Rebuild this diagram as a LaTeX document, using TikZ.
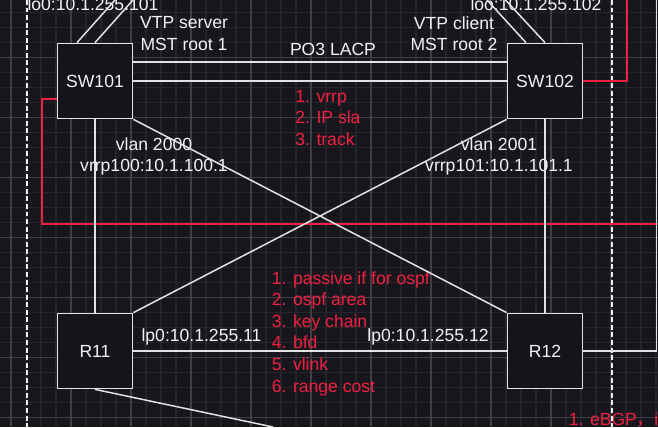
\documentclass[tikz,border=0pt]{standalone}
\usepackage{fontspec}
\setmainfont{Liberation Sans}
\newfontfamily\cjkfont{Noto Sans CJK SC}
\usetikzlibrary{positioning}

\definecolor{bgdark}{RGB}{24,22,29}
\definecolor{gridminor}{RGB}{38,36,43}
\definecolor{gridmajor}{RGB}{64,62,69}
\definecolor{boxfill}{RGB}{22,20,27}
\definecolor{linegrey}{RGB}{226,226,226}
\definecolor{textwhite}{RGB}{242,242,242}
\definecolor{notered}{RGB}{240,32,64}

\begin{document}
\begin{tikzpicture}[
    device/.style={rectangle,draw=linegrey,fill=boxfill,line width=1pt,minimum size=1.5cm,inner sep=0,text=textwhite},
    link/.style={draw=linegrey,line width=0.85pt},
    redlink/.style={draw=notered,line width=1pt},
    txt/.style={text=textwhite,align=center,inner sep=0},
    note/.style={text=notered,align=left,anchor=west,inner sep=0,font=\fontsize{10}{12.3}\selectfont},
    frame/.style={draw=textwhite,line width=1pt,dash pattern=on 2.8pt off 1.5pt},
]
    \fill[bgdark] (0,0) rectangle (13.16,8.54) ;
    \useasboundingbox (0,0) rectangle (13.16,8.54) ;

    % grid
    \foreach \i in {0,...,43} \draw[gridminor, line width=0.6pt] (0.22+0.3*\i,0) -- ++(0,8.54) ;
    \foreach \i in {0,...,27} \draw[gridminor, line width=0.6pt] (0,0.194+0.3*\i) -- ++(13.16,0) ;
    \foreach \i in {0,...,10} \draw[gridmajor, line width=0.6pt] (0.22+1.2*\i,0) -- ++(0,8.54) ;
    \foreach \i in {0,...,6} \draw[gridmajor, line width=0.6pt] (0,0.194+1.2*\i) -- ++(13.16,0) ;

    % devices
    \node[device] (sw101) at (1.9,6.92) {SW101} ;
    \node[device, xshift=9cm] (sw102) at (sw101) {SW102} ;
    \node[device, yshift=-5.4cm] (r11) at (sw101) {R11} ;
    \node[device, xshift=9cm] (r12) at (r11) {R12} ;

    % texts
    \node[txt, xshift=-0.04cm, yshift=1.54cm] (lo_sw101) at (sw101) {lo0:10.1.255.101} ;
    \node[txt, xshift=-0.18cm, yshift=1.54cm] (lo_sw102) at (sw102) {loo:10.1.255.102} ;
    \node[txt, xshift=1.78cm, yshift=0.95cm] (vtp_server) at (sw101) {VTP server\\MST root 1} ;
    \node[txt, xshift=-1.82cm, yshift=0.95cm] (vtp_client) at (sw102) {VTP client\\MST root 2} ;
    \node[txt, xshift=4.76cm, yshift=0.64cm] (po3) at (sw101) {PO3 LACP} ;
    \node[txt, xshift=1.18cm, yshift=-1.51cm] (vlan_2000) at (sw101) {vlan 2000\\vrrp100:10.1.100.1} ;
    \node[txt, xshift=-0.92cm, yshift=-1.51cm] (vlan_2001) at (sw102) {vlan 2001\\vrrp101:10.1.101.1} ;
    \node[txt, xshift=2.13cm, yshift=0.29cm] (lp_r11) at (r11) {lp0:10.1.255.11} ;
    \node[txt, xshift=-2.34cm, yshift=0.29cm] (lp_r12) at (r12) {lp0:10.1.255.12} ;

    \node[note, xshift=4.0cm, yshift=-0.74cm] (fhrp_notes) at (sw101) {1. vrrp\\2. IP sla\\3. track} ;
    \node[note, xshift=3.53cm, yshift=0.35cm] (ospf_notes) at (r11) {1. passive if for ospf\\2. ospf area\\3. key chain\\4. bfd\\5. vlink\\6. range cost} ;
    \node[note, anchor=base west] (bgp_notes) at (11.37,0.034) {1. eBGP{\cjkfont ，}i} ;

    % free ends
    \coordinate (up_sw101_a) at (2.3,8.54) ;
    \coordinate (up_sw101_b) at (2.66,8.54) ;
    \coordinate (up_sw102_a) at (9.74,8.54) ;
    \coordinate (up_sw102_b) at (10.11,8.54) ;
    \coordinate (track_corner) at (0.834,4.066) ;
    \coordinate (track_end) at (13.16,4.066) ;
    \coordinate (red_top) at (12.54,8.54) ;
    \coordinate (edge_top) at (13.134,8.54) ;
    \coordinate (r11_out) at (5.46,0) ;
    \coordinate (frame_l_top) at (0.534,8.54) ;
    \coordinate (frame_l_bot) at (0.534,0) ;
    \coordinate (frame_r_top) at (12.246,8.54) ;
    \coordinate (frame_r_bot) at (12.246,0) ;

    \draw[frame] (frame_l_top) -- (frame_l_bot) ;
    \draw[frame] (frame_r_top) -- (frame_r_bot) ;

    \draw[redlink] ([yshift=-0.36cm]sw101.west) -| (track_corner) -- (track_end) ;
    \draw[redlink] (sw102.east) -| (red_top) ;

    \draw[link] ([xshift=-0.36cm]sw101.north) -- (up_sw101_a) ;
    \draw[link] (sw101.north) -- (up_sw101_b) ;
    \draw[link] ([xshift=-0.38cm]sw102.north) -- (up_sw102_a) ;
    \draw[link] (sw102.north) -- (up_sw102_b) ;

    \draw[link] ([yshift=0.38cm]sw101.east) -- ([yshift=0.38cm]sw102.west) ;
    \draw[link] (sw101.east) -- (sw102.west) ;

    \draw[link] (sw101.south) -- (r11.north) ;
    \draw[link] (sw102.south) -- (r12.north) ;
    \draw[link] (sw101.south east) -- (r12.north west) ;
    \draw[link] (sw102.south west) -- (r11.north east) ;
    \draw[link] (r11.east) -- (r12.west) ;
    \draw[link] (r12.east) -| (edge_top) ;
    \draw[link] (r11.south) -- (r11_out) ;

\end{tikzpicture}
\end{document}
